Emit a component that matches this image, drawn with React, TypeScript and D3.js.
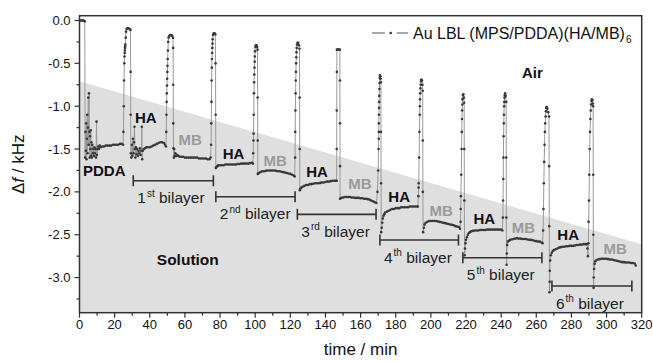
import React, { useRef, useEffect } from 'react';
import * as d3 from 'd3';

// axis ticks
const xTicks = [0, 20, 40, 60, 80, 100, 120, 140, 160, 180, 200, 220, 240, 260, 280, 300, 320];
const xMinor = [10, 30, 50, 70, 90, 110, 130, 150, 170, 190, 210, 230, 250, 270, 290, 310];
const yTicks = [0, -0.5, -1.0, -1.5, -2.0, -2.5, -3.0];
const yTickLabels = ['0.0', '-0.5', '-1.0', '-1.5', '-2.0', '-2.5', '-3.0'];
const yMinor = [-0.25, -0.75, -1.25, -1.75, -2.25, -2.75, -3.25];

// trace, [time (min), df (kHz)], one array per step
const airStart = [[0, 0], [0.6, 0], [1.2, 0], [1.8, 0], [2.4, 0], [3, -0.01]];
const pdda = [[3.2, -1.6], [3.4, -1.3], [3.6, -1.52], [3.8, -1.2], [4, -1.62], [4.2, -1.38], [4.4, -1.1], [4.6, -1.55], [4.8, -1.25], [5, -0.9], [5.2, -1.45], [5.4, -0.85], [5.6, -1.3], [5.8, -1.6], [6, -1.35], [6.2, -1.5], [6.4, -1.28], [6.6, -1.58], [6.8, -1.42], [7, -1.6], [7.3, -1.45], [7.6, -1.55], [7.9, -1.5], [8.2, -1.58], [8.5, -1.48], [8.8, -1.55], [9.1, -1.5], [9.4, -1.6], [9.7, -1.18], [9.9, -1.57], [10.2, -1.5], [10.6, -1.47], [11, -1.5], [11.5, -1.46], [12, -1.48], [13, -1.47], [14, -1.47], [15, -1.46], [16, -1.46], [17, -1.46], [18, -1.46], [19, -1.45], [20, -1.45], [21, -1.45], [22, -1.45], [23, -1.44], [24, -1.44], [24.8, -1.45]];
const dry1 = [[25, -1.3], [25.2, -1.0], [25.35, -0.7], [25.5, -0.5], [25.6, -0.42], [25.7, -0.38], [25.8, -0.35], [25.9, -0.32], [26, -0.3], [26.1, -0.28], [26.3, -0.2], [26.5, -0.13], [26.8, -0.1], [27.3, -0.09], [27.9, -0.09], [28.5, -0.1], [29, -0.11], [29.1, -0.6], [29.15, -1.1]];
const ha1 = [[29.2, -1.55], [29.5, -1.6], [29.8, -1.45], [30.1, -1.58], [30.4, -1.38], [30.7, -1.55], [31, -1.42], [31.3, -1.24], [31.5, -1.5], [31.8, -1.6], [32.1, -1.48], [32.4, -1.56], [32.8, -1.5], [33.2, -1.58], [33.6, -1.52], [34, -1.55], [34.4, -1.49], [34.8, -1.57], [35.2, -1.52], [35.5, -1.24], [35.7, -1.62], [36, -1.52], [36.6, -1.5], [37.3, -1.49], [38, -1.48], [39, -1.48], [40, -1.48], [41, -1.47], [42, -1.46], [43, -1.45], [44, -1.44], [45, -1.43], [46, -1.42], [47, -1.42], [48, -1.43], [48.7, -1.45], [49.2, -1.47]];
const dry2 = [[49.4, -1.3], [49.5, -1.1], [49.6, -0.95], [49.7, -0.85], [49.8, -0.76], [49.9, -0.68], [50, -0.6], [50.1, -0.53], [50.2, -0.45], [50.35, -0.35], [50.5, -0.25], [50.7, -0.2], [51.1, -0.18], [51.6, -0.17], [52.2, -0.17], [52.8, -0.18], [53.2, -0.2], [53.3, -0.32], [53.35, -0.75], [53.4, -1.2]];
const mb1 = [[53.5, -1.49], [53.7, -1.6], [53.9, -1.5], [54.2, -1.58], [54.6, -1.55], [55, -1.58], [55.6, -1.57], [56.3, -1.58], [57, -1.59], [58, -1.59], [59, -1.59], [60, -1.6], [61, -1.6], [62, -1.6], [63, -1.6], [64, -1.6], [65, -1.6], [66, -1.6], [67, -1.6], [68, -1.61], [69, -1.61], [70, -1.61], [71, -1.61], [72, -1.61], [73, -1.62], [74, -1.62], [74.6, -1.6]];
const dry3 = [[74.9, -1.45], [75, -1.2], [75.1, -0.95], [75.2, -0.7], [75.3, -0.55], [75.4, -0.45], [75.5, -0.38], [75.6, -0.32], [75.7, -0.27], [75.8, -0.22], [76, -0.17], [76.4, -0.15], [76.9, -0.15], [77.3, -0.16], [77.45, -0.5], [77.5, -1.1]];
const ha2 = [[77.6, -1.72], [78, -1.71], [78.5, -1.7], [79, -1.69], [80, -1.69], [81, -1.69], [82, -1.69], [83, -1.68], [84, -1.68], [85, -1.68], [86, -1.68], [87, -1.68], [88, -1.68], [89, -1.68], [90, -1.675], [91, -1.675], [92, -1.67], [93, -1.67], [94, -1.67], [95, -1.67], [96, -1.67], [97, -1.665], [98, -1.66], [98.7, -1.67]];
const dry4 = [[98.9, -1.55], [99, -1.4], [99.1, -1.32], [99.2, -1.1], [99.3, -0.85], [99.4, -0.72], [99.5, -0.63], [99.6, -0.55], [99.7, -0.48], [99.8, -0.42], [99.9, -0.36], [100.1, -0.31], [100.4, -0.29], [100.8, -0.29], [101.1, -0.31], [101.3, -0.34], [101.4, -0.9], [101.45, -1.4]];
const mb2 = [[101.5, -1.79], [102, -1.78], [103, -1.77], [104, -1.76], [105, -1.76], [106, -1.755], [107, -1.75], [108, -1.75], [109, -1.75], [110, -1.75], [111, -1.75], [112, -1.755], [113, -1.76], [114, -1.76], [115, -1.765], [116, -1.77], [117, -1.775], [118, -1.78], [119, -1.785], [120, -1.79], [121, -1.8], [122, -1.81], [122.5, -1.82]];
const dry5 = [[122.7, -1.6], [122.8, -1.3], [122.9, -1.05], [123, -0.85], [123.1, -0.7], [123.2, -0.6], [123.3, -0.5], [123.4, -0.43], [123.5, -0.37], [123.6, -0.32], [123.8, -0.28], [124.1, -0.26], [124.5, -0.26], [124.9, -0.29], [125.2, -0.33], [125.3, -0.9], [125.35, -1.5]];
const ha3 = [[125.4, -1.98], [125.8, -1.96], [126.3, -1.95], [127, -1.94], [128, -1.93], [129, -1.92], [130, -1.92], [131, -1.91], [132, -1.91], [133, -1.905], [134, -1.9], [135, -1.9], [136, -1.9], [137, -1.895], [138, -1.89], [139, -1.89], [140, -1.885], [141, -1.88], [142, -1.88], [143, -1.875], [144, -1.87], [145, -1.87], [146, -1.87]];
const dry6 = [[146.4, -1.87], [146.42, -1.5], [146.45, -1.05], [146.48, -0.6], [146.5, -0.34], [147, -0.34], [147.6, -0.34], [148.2, -0.34], [148.22, -0.7], [148.25, -1.2], [148.28, -1.7]];
const mb3 = [[148.3, -2.08], [149, -2.07], [150, -2.065], [151, -2.06], [152, -2.06], [153, -2.06], [154, -2.06], [155, -2.065], [156, -2.065], [157, -2.07], [158, -2.07], [159, -2.07], [160, -2.075], [161, -2.075], [162, -2.08], [163, -2.08], [164, -2.085], [165, -2.09], [166, -2.1], [167, -2.11], [168, -2.12], [169, -2.13]];
const dry7 = [[169.6, -2.0], [170, -1.75], [170.2, -1.5], [170.3, -1.38], [170.35, -1.3], [170.4, -1.2], [170.45, -1.1], [170.5, -1.02], [170.55, -0.95], [170.6, -0.88], [170.7, -0.8], [170.8, -0.73], [170.9, -0.67], [171, -0.64], [171.2, -0.65], [171.4, -0.68], [171.55, -0.72], [171.6, -1.3], [171.65, -1.9]];
const ha4 = [[171.75, -2.47], [172, -2.42], [172.3, -2.36], [172.6, -2.31], [173, -2.28], [173.5, -2.26], [174, -2.24], [175, -2.23], [176, -2.22], [177, -2.21], [178, -2.2], [179, -2.2], [180, -2.19], [181, -2.19], [182, -2.19], [183, -2.18], [184, -2.18], [185, -2.18], [186, -2.18], [187, -2.18], [188, -2.17], [189, -2.17], [190, -2.17], [191, -2.17], [192, -2.17], [192.6, -2.17]];
const dry8 = [[192.9, -2.05], [193, -1.95], [193.1, -1.9], [193.3, -1.6], [193.5, -1.3], [193.65, -1.1], [193.75, -1.0], [193.85, -0.92], [193.95, -0.85], [194.05, -0.79], [194.2, -0.75], [194.4, -0.71], [194.6, -0.69], [194.9, -0.7], [195.2, -0.75], [195.35, -0.82], [195.4, -1.4], [195.45, -2.0]];
const mb4 = [[195.6, -2.47], [196, -2.42], [196.4, -2.38], [197, -2.36], [198, -2.35], [199, -2.34], [200, -2.34], [201, -2.34], [202, -2.34], [203, -2.34], [204, -2.345], [205, -2.35], [206, -2.355], [207, -2.36], [208, -2.365], [209, -2.37], [210, -2.375], [211, -2.38], [212, -2.385], [213, -2.39], [214, -2.4], [215, -2.405], [216, -2.41], [216.6, -2.43]];
const dry9 = [[216.9, -2.35], [217, -2.2], [217.1, -2.05], [217.3, -1.8], [217.5, -1.5], [217.6, -1.3], [217.7, -1.15], [217.8, -1.05], [217.9, -0.98], [218, -0.92], [218.2, -0.87], [218.5, -0.86], [218.8, -0.9], [218.95, -0.96], [219, -1.5], [219.05, -2.1]];
const ha5 = [[219.2, -2.74], [219.4, -2.66], [219.7, -2.6], [220, -2.56], [220.5, -2.53], [221, -2.5], [221.6, -2.48], [222.3, -2.47], [223, -2.46], [224, -2.455], [225, -2.45], [226, -2.45], [227, -2.45], [228, -2.445], [229, -2.445], [230, -2.445], [231, -2.445], [232, -2.44], [233, -2.44], [234, -2.44], [235, -2.44], [236, -2.44], [237, -2.44], [238, -2.44], [239, -2.44], [240, -2.44], [240.7, -2.45]];
const dry10 = [[241, -2.3], [241.1, -2.1], [241.2, -1.85], [241.3, -1.6], [241.4, -1.35], [241.5, -1.2], [241.6, -1.1], [241.7, -1.0], [241.8, -0.95], [241.9, -0.9], [242, -0.87], [242.3, -0.85], [242.6, -0.88], [242.85, -0.95], [242.9, -1.6], [242.95, -2.3]];
const mb5 = [[243.1, -2.85], [243.2, -2.72], [243.4, -2.62], [243.8, -2.58], [244.5, -2.57], [245, -2.56], [246, -2.555], [247, -2.55], [248, -2.545], [249, -2.54], [250, -2.545], [251, -2.545], [252, -2.55], [253, -2.55], [254, -2.55], [255, -2.555], [256, -2.56], [257, -2.56], [258, -2.565], [259, -2.57], [260, -2.575], [261, -2.58], [262, -2.58], [263, -2.59], [263.6, -2.6]];
const dry11 = [[263.9, -2.45], [264.1, -2.2], [264.3, -1.9], [264.5, -1.65], [264.7, -1.45], [264.9, -1.3], [265.1, -1.2], [265.3, -1.12], [265.5, -1.06], [265.7, -1.02], [265.9, -1.01], [266.3, -1.03], [266.8, -1.07], [267.2, -1.12], [267.3, -1.7], [267.4, -2.4]];
const ha6 = [[267.5, -3.17], [267.6, -3.05], [267.7, -2.92], [267.9, -2.8], [268.3, -2.74], [268.8, -2.71], [269.4, -2.69], [270, -2.68], [271, -2.67], [272, -2.66], [273, -2.65], [274, -2.645], [275, -2.64], [276, -2.64], [277, -2.635], [278, -2.635], [279, -2.63], [280, -2.63], [281, -2.63], [282, -2.625], [283, -2.62], [284, -2.62], [285, -2.615], [286, -2.615], [287, -2.61], [288, -2.61], [288.8, -2.61], [289.1, -2.66], [289.4, -2.75]];
const dry12 = [[289.7, -2.6], [289.8, -2.35], [290, -2.1], [290.2, -1.8], [290.4, -1.5], [290.6, -1.3], [290.8, -1.15], [291, -1.05], [291.2, -0.98], [291.4, -0.94], [291.6, -0.92], [291.9, -0.93], [292.2, -0.97], [292.35, -1.0], [292.4, -1.8], [292.45, -2.5]];
const mb6 = [[292.6, -3.12], [292.7, -3.0], [292.9, -2.9], [293.2, -2.84], [293.6, -2.81], [294, -2.8], [295, -2.79], [296, -2.785], [297, -2.78], [298, -2.78], [299, -2.78], [300, -2.78], [301, -2.785], [302, -2.79], [303, -2.79], [304, -2.795], [305, -2.8], [306, -2.805], [307, -2.81], [308, -2.815], [309, -2.82], [310, -2.82], [311, -2.825], [312, -2.825], [313, -2.825], [314, -2.83], [315, -2.83], [316, -2.835], [316.6, -2.86]];

const steps = [airStart, pdda, dry1, ha1, dry2, mb1, dry3, ha2, dry4, mb2, dry5, ha3, dry6, mb3,
  dry7, ha4, dry8, mb4, dry9, ha5, dry10, mb5, dry11, ha6, dry12, mb6];

// solution / air boundary
const boundaryTime = [0, 320];
const boundaryShift = [-0.71, -2.61];

// layer annotations (anchor in data units)
const layerNames = ['PDDA', 'HA', 'MB', 'HA', 'MB', 'HA', 'MB', 'HA', 'MB', 'HA', 'MB', 'HA', 'MB'];
const layerTime = [2, 31.6, 56.3, 81.5, 104.7, 129, 153, 175.8, 199.2, 224.2, 246.1, 272, 298.2];
const layerShift = [-1.815, -1.196, -1.453, -1.617, -1.695, -1.83, -1.97, -2.115, -2.282, -2.375, -2.48, -2.562, -2.725];

// bilayer brackets
const bilayerNumber = ['1', '2', '3', '4', '5', '6'];
const bilayerSuffix = ['st', 'nd', 'rd', 'th', 'th', 'th'];
const bilayerStart = [30.6, 77.6, 124, 171, 218.2, 268.9];
const bilayerEnd = [76.2, 122.7, 168.8, 215.7, 263.2, 314.4];
const bilayerShift = [-1.87, -2.057, -2.262, -2.562, -2.769, -3.099];

const FONT = 'Liberation Sans, Arial, Helvetica, sans-serif';

export default function App() {
  const svgRef = useRef(null);

  useEffect(() => {
    if (!svgRef.current) return;
    const svg = d3.select(svgRef.current);
    svg.selectAll('*').remove();

    const left = 79.5, right = 641.7, top = 15.7, bottom = 312.7;

    const x = d3.scaleLinear().domain([0, 320]).range([left, right]);
    const y = d3.scaleLinear().domain([-3.41, 0.056]).range([bottom, top]);

    svg.append('clipPath').attr('id', 'plot-clip')
      .append('rect')
      .attr('x', left).attr('y', top)
      .attr('width', right - left).attr('height', bottom - top);

    // grey "solution" region
    const shade = d3.area()
      .x((d: any) => x(d[0]))
      .y0(bottom)
      .y1((d: any) => y(d[1]));
    svg.append('path')
      .datum(boundaryTime.map((t, i) => [t, boundaryShift[i]]))
      .attr('fill', '#dfdfdf')
      .attr('d', shade as any);

    // trace
    const points = steps.flat();
    const g = svg.append('g').attr('clip-path', 'url(#plot-clip)');
    const line = d3.line()
      .x((d: any) => x(d[0]))
      .y((d: any) => y(d[1]));
    g.append('path')
      .datum(points)
      .attr('fill', 'none')
      .attr('stroke', '#999')
      .attr('stroke-width', 1)
      .attr('d', line as any);
    g.selectAll('circle.pt')
      .data(points)
      .enter().append('circle')
      .attr('class', 'pt')
      .attr('cx', (d: any) => x(d[0]))
      .attr('cy', (d: any) => y(d[1]))
      .attr('r', 1.3)
      .attr('fill', '#383838');

    // layer labels
    svg.selectAll('text.layer')
      .data(layerNames)
      .enter().append('text')
      .attr('class', 'layer')
      .attr('x', (_d, i) => x(layerTime[i]))
      .attr('y', (_d, i) => y(layerShift[i]))
      .attr('font-family', FONT)
      .attr('font-weight', 'bold')
      .attr('font-size', '15px')
      .attr('fill', d => (d === 'MB' ? '#9a9a9a' : '#111'))
      .text(d => d);

    // bilayer brackets
    bilayerNumber.forEach((n, i) => {
      const x0 = x(bilayerStart[i]);
      const x1 = x(bilayerEnd[i]);
      const yy = y(bilayerShift[i]);
      const b = svg.append('g').attr('stroke', '#333').attr('stroke-width', 1.6);
      b.append('line').attr('x1', x0).attr('x2', x1).attr('y1', yy).attr('y2', yy);
      b.append('line').attr('x1', x0).attr('x2', x0).attr('y1', yy - 5.5).attr('y2', yy + 5.5);
      b.append('line').attr('x1', x1).attr('x2', x1).attr('y1', yy - 5.5).attr('y2', yy + 5.5);
      const t = svg.append('text')
        .attr('x', x0 + 4)
        .attr('y', yy + 22.5)
        .attr('font-family', FONT)
        .attr('font-size', '15.5px')
        .attr('fill', '#222');
      t.append('tspan').text(n);
      t.append('tspan').attr('font-size', '10px').attr('dy', -6.5).attr('dx', 1).text(bilayerSuffix[i]);
      t.append('tspan').attr('dy', 6.5).text(' bilayer');
    });

    svg.append('text')
      .attr('x', x(44)).attr('y', y(-2.854))
      .attr('font-family', FONT).attr('font-weight', 'bold').attr('font-size', '15.5px')
      .attr('fill', '#111')
      .text('Solution');
    svg.append('text')
      .attr('x', x(251.8)).attr('y', y(-0.671))
      .attr('font-family', FONT).attr('font-weight', 'bold').attr('font-size', '15px')
      .attr('fill', '#111')
      .text('Air');

    // frame
    svg.append('rect')
      .attr('x', left).attr('y', top)
      .attr('width', right - left).attr('height', bottom - top)
      .attr('fill', 'none').attr('stroke', '#333').attr('stroke-width', 1.5);

    // bottom axis
    const xa = svg.append('g').attr('stroke', '#333').attr('stroke-width', 1.2);
    xTicks.forEach(v => {
      xa.append('line').attr('x1', x(v)).attr('x2', x(v)).attr('y1', bottom).attr('y2', bottom + 5);
    });
    xMinor.forEach(v => {
      xa.append('line').attr('x1', x(v)).attr('x2', x(v)).attr('y1', bottom).attr('y2', bottom + 3);
    });
    svg.selectAll('text.xt')
      .data(xTicks)
      .enter().append('text')
      .attr('class', 'xt')
      .attr('x', d => x(d))
      .attr('y', bottom + 16)
      .attr('text-anchor', 'middle')
      .attr('font-family', FONT)
      .attr('font-size', '13px')
      .attr('fill', '#111')
      .text(d => String(d));

    // left axis
    const ya = svg.append('g').attr('stroke', '#333').attr('stroke-width', 1.2);
    yTicks.forEach(v => {
      ya.append('line').attr('x1', left - 5).attr('x2', left).attr('y1', y(v)).attr('y2', y(v));
    });
    yMinor.forEach(v => {
      ya.append('line').attr('x1', left - 3).attr('x2', left).attr('y1', y(v)).attr('y2', y(v));
    });
    svg.selectAll('text.yt')
      .data(yTicks)
      .enter().append('text')
      .attr('class', 'yt')
      .attr('x', left - 9)
      .attr('y', d => y(d) + 4.5)
      .attr('text-anchor', 'end')
      .attr('font-family', FONT)
      .attr('font-size', '13px')
      .attr('fill', '#111')
      .text((_d, i) => yTickLabels[i]);

    // axis titles
    svg.append('text')
      .attr('x', (left + right) / 2).attr('y', 355)
      .attr('text-anchor', 'middle')
      .attr('font-family', FONT).attr('font-size', '17px').attr('fill', '#111')
      .text('time / min');
    const yt = svg.append('text')
      .attr('transform', `translate(24,${(top + bottom) / 2}) rotate(-90)`)
      .attr('text-anchor', 'middle')
      .attr('font-family', FONT).attr('font-size', '17px').attr('fill', '#111');
    yt.append('tspan').text('\u0394');
    yt.append('tspan').attr('font-style', 'italic').text('f');
    yt.append('tspan').text(' / kHz');

    // legend
    const ly = 33;
    const lg = svg.append('g');
    lg.append('line').attr('x1', 372).attr('x2', 385).attr('y1', ly).attr('y2', ly)
      .attr('stroke', '#555').attr('stroke-width', 1);
    lg.append('line').attr('x1', 396.5).attr('x2', 408).attr('y1', ly).attr('y2', ly)
      .attr('stroke', '#555').attr('stroke-width', 1);
    lg.append('circle').attr('cx', 390.7).attr('cy', ly).attr('r', 1.3).attr('fill', '#333');
    const lt = lg.append('text')
      .attr('x', 413).attr('y', ly + 5.5)
      .attr('font-family', FONT).attr('font-size', '16px').attr('fill', '#111');
    lt.append('tspan').text('Au LBL (MPS/PDDA)(HA/MB)');
    lt.append('tspan').attr('font-size', '10px').attr('dy', 4).attr('dx', 1).text('6');
  }, []);

  return (
    <svg
      ref={svgRef}
      width={653}
      height={361}
      viewBox="0 0 653 361"
      style={{ position: 'absolute', left: 0, top: 0, background: '#fff' }}
    />
  );
}
